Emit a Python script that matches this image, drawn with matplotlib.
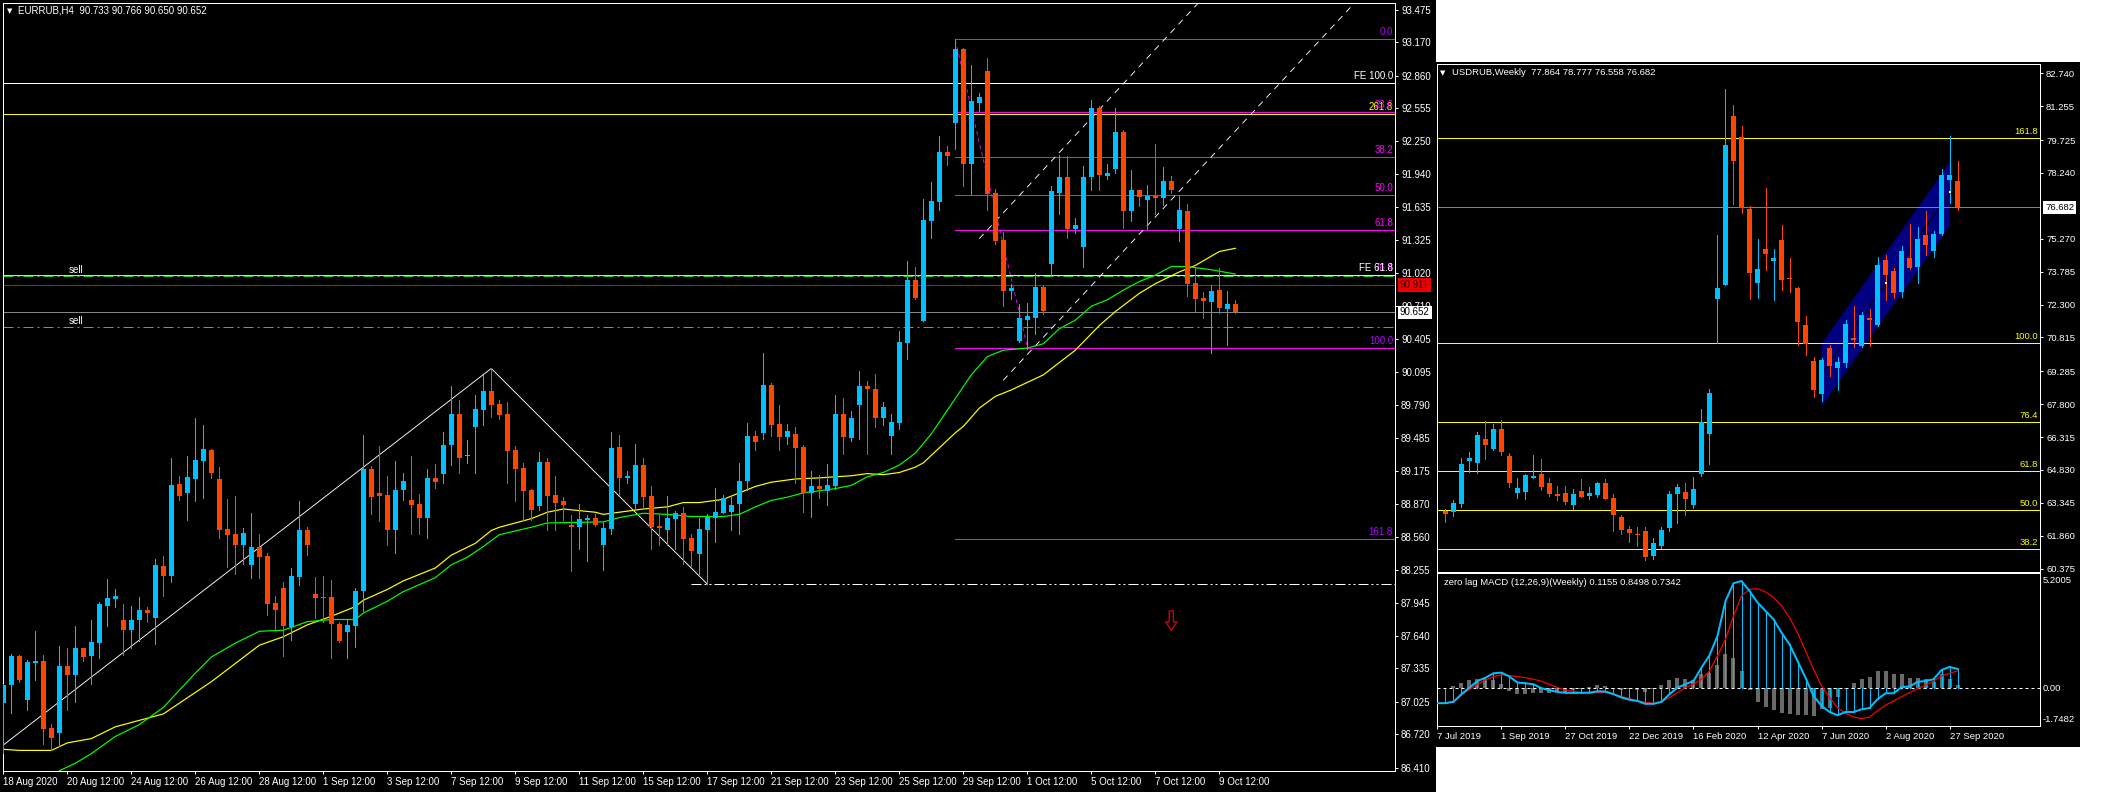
# EURRUB H4 and USDRUB weekly MT4 screenshot
import numpy as np
import matplotlib
matplotlib.use('Agg')
import matplotlib.pyplot as plt
from matplotlib.patches import Rectangle

plt.rcParams['font.family'] = ['Liberation Sans', 'DejaVu Sans']

# EURRUB H4 candles
eur_open = [87.01,87.18,87.45,87.04,87.38,87.40,86.78,86.73,87.36,87.27,
    87.52,87.45,87.57,87.92,87.98,87.79,87.69,87.79,87.88,87.80,
    88.29,88.20,89.05,88.97,89.10,89.27,89.37,89.10,88.63,88.59,
    88.48,88.30,88.47,88.38,87.94,88.08,87.72,88.19,88.62,88.03,
    88.00,88.00,87.75,87.67,87.73,88.06,89.19,88.97,88.95,88.62,
    89.00,88.90,88.87,88.74,89.11,89.15,89.42,89.71,89.31,89.58,
    89.74,89.92,89.80,89.71,89.37,89.20,89.00,88.85,89.26,88.95,
    88.89,88.67,88.65,88.72,88.74,88.48,88.63,89.40,89.11,88.87,
    89.23,88.94,88.66,88.62,88.73,88.78,88.55,88.40,88.62,88.74,
    88.78,88.79,88.87,89.08,89.50,89.53,89.98,89.61,89.49,89.52,
    89.40,88.97,89.03,88.99,89.03,89.71,89.48,89.79,89.97,89.94,
    89.67,89.50,89.62,90.37,90.95,90.57,91.50,91.68,92.15,92.42,
    93.11,92.04,92.60,92.90,91.77,91.33,90.85,90.39,90.58,90.60,
    90.89,91.10,91.77,91.91,91.43,91.26,91.91,92.56,91.92,91.99,
    92.33,91.60,91.79,91.70,91.74,91.72,91.88,91.43,91.60,90.93,
    90.79,90.75,90.86,90.68,90.733]
eur_high = [87.19,87.47,87.46,87.41,87.68,87.46,86.82,87.54,87.52,87.73,
    87.52,87.79,87.95,88.17,88.07,87.93,87.92,88.00,87.91,88.35,
    88.38,89.30,89.13,89.31,89.67,89.60,89.38,89.21,88.91,88.94,
    88.64,88.78,88.59,88.41,88.01,88.14,88.27,88.89,88.65,88.19,
    88.20,88.16,87.77,87.79,88.08,89.51,89.22,89.41,89.13,89.27,
    89.16,89.31,88.96,89.19,89.24,89.54,89.97,89.84,89.46,89.88,
    90.07,90.13,89.84,89.82,89.41,89.25,89.01,89.35,89.30,89.13,
    88.93,88.76,88.87,88.76,88.77,88.70,89.54,89.51,89.17,89.43,
    89.30,89.03,88.76,88.94,88.80,88.84,88.59,88.74,88.77,89.02,
    88.95,88.95,89.25,89.62,89.55,90.27,89.99,89.79,89.61,89.58,
    89.42,89.17,89.14,89.24,89.88,89.85,89.73,90.11,90.01,90.08,
    89.82,89.71,90.48,91.13,91.08,91.71,91.87,92.30,92.20,93.20,
    93.12,92.96,92.70,93.02,91.80,91.40,90.92,90.73,90.74,91.02,
    90.91,91.83,92.12,92.11,91.53,92.02,92.63,92.58,92.04,92.56,
    92.35,91.98,91.79,91.84,92.22,92.01,91.92,91.74,91.66,91.07,
    90.84,90.91,91.07,90.85,90.766]
eur_low = [86.55,86.92,87.21,86.95,87.23,86.63,86.57,86.61,86.95,87.02,
    87.40,87.19,87.43,87.73,87.91,87.46,87.52,87.59,87.77,87.56,
    88.01,88.14,88.90,88.72,88.89,88.92,89.11,88.55,88.28,88.21,
    88.31,88.18,88.18,87.83,87.70,87.45,87.60,88.11,88.39,87.80,
    87.77,87.43,87.58,87.43,87.53,87.87,88.77,88.71,88.48,88.41,
    88.90,88.59,88.59,88.55,89.02,89.06,89.23,89.16,89.25,89.16,
    89.60,89.68,89.66,89.06,88.89,88.72,88.72,88.81,88.62,88.62,
    88.72,88.24,88.45,88.34,88.66,88.25,88.59,88.95,89.06,88.81,
    88.82,88.45,88.48,88.48,88.45,88.31,88.28,88.21,88.12,88.51,
    88.78,88.62,88.59,89.00,89.37,89.47,89.50,89.37,89.43,89.06,
    88.79,88.75,88.92,88.86,89.01,89.33,89.45,89.47,89.33,89.58,
    89.60,89.33,89.57,90.22,90.78,90.57,91.35,91.61,92.03,92.18,
    91.83,91.76,92.53,91.61,91.29,90.71,90.78,90.38,90.31,90.45,
    90.64,91.00,91.57,91.35,91.39,91.08,91.79,91.79,91.90,91.95,
    91.44,91.50,91.64,91.43,91.57,91.65,91.77,91.32,90.81,90.67,
    90.60,90.27,90.65,90.35,90.650]
eur_close = [87.18,87.45,87.23,87.39,87.40,86.77,86.69,87.36,87.27,87.52,
    87.44,87.58,87.93,87.99,88.01,87.69,87.79,87.88,87.85,88.30,
    88.20,89.04,88.94,89.12,89.28,89.38,89.16,88.62,88.58,88.48,
    88.60,88.47,88.37,87.93,87.88,87.73,88.20,88.62,88.48,87.99,
    87.99,87.75,87.59,87.74,88.06,89.19,88.93,88.94,88.62,89.00,
    89.08,88.86,88.74,89.11,89.07,89.42,89.71,89.30,89.31,89.75,
    89.92,89.79,89.70,89.36,89.19,88.99,88.81,89.26,88.94,88.88,
    88.86,88.65,88.73,88.74,88.67,88.64,89.39,89.11,89.13,89.23,
    88.93,88.65,88.64,88.74,88.78,88.54,88.43,88.63,88.75,88.79,
    88.92,88.86,89.08,89.50,89.44,89.98,89.60,89.49,89.55,89.39,
    88.97,89.03,89.01,89.04,89.71,89.49,89.67,89.97,89.94,89.67,
    89.77,89.63,90.38,90.95,90.79,91.51,91.69,92.15,92.11,93.11,
    92.04,92.62,92.66,91.76,91.32,90.85,90.88,90.60,90.62,90.89,
    90.67,91.78,91.91,91.43,91.47,91.91,92.56,91.93,91.95,92.33,
    91.60,91.79,91.73,91.74,91.72,91.88,91.79,91.61,90.92,90.78,
    90.76,90.85,90.69,90.73,90.652]

# moving averages read at the bars listed
yellow_bars = [0,2,6,8,11,14,17,20,22,26,29,32,35,38,41,44,45,48,50,54,56,59,61,62,
    66,68,70,74,75,77,80,83,85,87,90,92,94,96,99,102,104,106,108,110,112,114,115,117,
    119,120,122,124,126,130,134,137,139,142,144,147,149,152,154]
yellow_ma = [86.58,86.57,86.57,86.64,86.68,86.79,86.85,86.91,87.01,87.21,87.38,87.55,87.63,
    87.74,87.82,87.91,87.97,88.07,88.15,88.27,88.39,88.50,88.62,88.65,
    88.73,88.79,88.82,88.79,88.77,88.79,88.82,88.84,88.88,88.88,88.91,88.97,89.03,89.07,
    89.10,89.11,89.12,89.13,89.15,89.14,89.16,89.21,89.25,89.39,
    89.53,89.59,89.76,89.87,89.93,90.07,90.30,90.53,90.66,90.83,90.92,91.03,91.09,91.22,91.25]
green_bars = [7,9,11,14,17,20,22,24,26,29,32,35,38,41,44,45,48,50,54,56,58,60,62,
    66,68,75,77,80,83,86,90,92,94,96,98,100,104,106,108,110,112,114,116,118,119,
    121,123,125,128,130,132,134,136,138,140,142,144,146,148,151,154]
green_ma = [86.38,86.45,86.54,86.70,86.81,86.97,87.13,87.29,87.44,87.57,87.68,87.69,87.77,
    87.79,87.79,87.85,87.96,88.05,88.18,88.30,88.37,88.47,88.58,
    88.65,88.69,88.70,88.74,88.78,88.77,88.75,88.75,88.77,88.84,88.90,88.93,88.97,89.01,
    89.04,89.12,89.16,89.23,89.34,89.52,89.74,89.85,
    90.07,90.24,90.30,90.32,90.36,90.50,90.58,90.71,90.77,90.86,90.94,91.00,91.08,91.08,91.05,91.01]

# EURRUB objects
fe_100 = 92.79
fe_618 = 91.00
fib_yellow_2618 = 92.50
fib_levels = [93.20, 92.52, 92.10, 91.75, 91.42, 90.997, 90.317, 88.54]
fib_names = ['0.0', '23.6', '38.2', '50.0', '61.8', '76.4', '100.0', '161.8']
fib_colors = ['#b000ff', '#ff00ff', '#ff00ff', '#ff00ff', '#ff00ff', '#ff00ff', '#b000ff', '#b000ff']
fib_start_bar = 119
sell_levels = [90.99, 90.52]
bid_price = 90.652
ask_price = 90.911
target_price = 88.12
target_start_bar = 86
zigzag_bars = [0, 61, 88]
zigzag_prices = [86.62, 90.13, 88.12]
fib_trend_bars = [119, 128]
fib_trend_prices = [93.19, 90.33]
channel_a_bars = [122, 149.3]
channel_a_prices = [91.34, 93.53]
channel_b_bars = [125, 168.7]
channel_b_prices = [90.02, 93.52]
arrow_bar = 146
arrow_tip = 87.69
arrow_top = 87.87

eur_yticks = [93.475,93.170,92.860,92.555,92.250,91.940,91.635,91.325,91.020,90.710,90.405,90.095,
    89.790,89.485,89.175,88.870,88.560,88.255,87.945,87.640,87.335,87.025,86.720,86.410]
eur_xlabels = ['18 Aug 2020','20 Aug 12:00','24 Aug 12:00','26 Aug 12:00','28 Aug 12:00','1 Sep 12:00',
    '3 Sep 12:00','7 Sep 12:00','9 Sep 12:00','11 Sep 12:00','15 Sep 12:00','17 Sep 12:00','21 Sep 12:00',
    '23 Sep 12:00','25 Sep 12:00','29 Sep 12:00','1 Oct 12:00','5 Oct 12:00','7 Oct 12:00','9 Oct 12:00']

# USDRUB weekly candles, week 1 to 65
usd_open = [62.98,62.93,63.29,65.24,65.15,66.23,65.78,66.68,65.46,63.79,
    63.84,64.48,64.65,64.24,63.75,63.79,63.25,63.88,63.66,63.70,
    64.24,63.57,62.71,62.17,61.94,62.08,60.95,61.40,62.21,63.75,
    63.84,63.25,64.65,66.45,72.55,73.18,80.81,79.86,76.61,73.27,
    74.81,74.26,75.21,73.50,73.04,71.37,69.75,68.26,70.34,69.43,
    69.66,70.79,70.43,71.69,71.37,74.31,73.81,72.86,74.40,73.99,
    75.44,74.71,75.48,77.92,77.864]
usd_high = [63.07,63.48,65.37,65.64,66.55,67.04,66.91,67.09,65.60,64.47,
    64.65,65.51,65.33,64.47,64.11,64.11,63.97,64.42,64.06,64.29,
    64.42,63.75,62.80,62.30,62.26,62.26,61.76,62.26,63.88,64.20,
    64.24,64.51,67.58,68.48,75.44,82.03,81.31,80.36,76.75,75.26,
    77.56,74.81,75.89,74.40,73.09,71.78,69.93,69.89,70.47,69.93,
    71.60,72.23,71.96,72.10,74.44,74.53,73.95,74.94,75.93,75.80,
    76.52,75.62,78.42,79.91,78.777]
usd_low = [62.48,62.75,63.16,64.74,64.69,65.33,65.73,65.51,64.06,63.57,
    63.52,64.47,63.93,63.66,63.48,63.29,63.07,63.61,63.52,63.61,
    63.52,62.08,61.94,61.58,61.40,60.77,60.81,61.31,62.08,62.44,
    62.80,63.11,64.56,65.10,70.55,73.18,76.84,76.43,72.55,72.59,
    73.86,72.50,72.95,72.86,70.47,70.02,68.12,67.94,69.07,68.44,
    69.48,70.38,70.38,70.43,71.33,72.50,72.59,72.64,73.90,73.27,
    74.53,74.44,75.44,76.88,76.558]
usd_close = [62.84,63.34,65.10,65.37,66.41,65.96,66.68,65.64,64.24,64.02,
    64.60,64.56,64.06,63.75,63.66,63.39,63.75,63.61,63.79,64.24,
    63.52,62.80,62.12,61.99,61.89,60.90,61.53,62.12,63.75,64.06,
    63.52,63.97,67.00,68.30,73.04,79.50,78.78,76.66,73.72,73.90,
    74.58,74.40,73.41,73.44,71.51,70.52,68.44,69.79,69.52,69.70,
    71.42,70.70,71.83,71.60,74.08,73.63,72.82,74.71,73.95,75.26,
    74.99,75.48,78.15,78.15,76.682]

usd_fib_levels = [79.80, 70.55, 66.98, 64.77, 63.01, 61.25]
usd_fib_names = ['161.8', '100.0', '76.4', '61.8', '50.0', '38.2']
usd_bid = 76.682
channel_bars = [48, 64]
channel_upper = [70.58, 78.75]
channel_lower = [67.76, 75.89]
channel_mid = [69.17, 77.32]
white_mark_bars = [56, 64]
white_mark_prices = [73.26, 77.36]

usd_yticks = [82.740,81.255,79.725,78.240,75.270,73.785,72.300,70.815,69.285,67.800,66.315,64.830,63.345,61.860,60.375]
usd_xticks = [0, 8, 16, 24, 32, 40, 48, 56, 64]
usd_xlabels = ['7 Jul 2019','1 Sep 2019','27 Oct 2019','22 Dec 2019','16 Feb 2020','12 Apr 2020','7 Jun 2020','2 Aug 2020','27 Sep 2020']

# zero lag MACD, week 0 to 65
macd_line = [-.71,-.71,-.65,-.30,0,.30,.45,.65,.68,.50,.23,.20,.15,-.03,-.12,-.20,-.24,-.24,-.24,-.23,
    -.17,-.18,-.30,-.45,-.55,-.61,-.74,-.74,-.65,-.30,0,.15,.30,.91,1.47,2.35,3.94,4.75,4.85,4.40,
    3.87,3.49,3.11,2.50,1.97,1.21,.45,-.38,-.83,-1.11,-1.26,-1.11,-1.11,-.99,-.93,-.53,-.26,-.26,.02,.05,
    .26,.30,.38,.80,.94,.85]
macd_signal = [-.71,-.71,-.61,-.35,-.08,.15,.35,.50,.58,.55,.50,.45,.38,.29,.15,0,-.12,-.17,-.23,-.24,
    -.23,-.23,-.30,-.41,-.50,-.61,-.68,-.71,-.65,-.45,-.23,0,.15,.38,.76,1.44,2.20,3.26,4.17,4.47,
    4.50,4.35,4.10,3.73,3.18,2.50,1.67,.83,.08,-.46,-.91,-1.17,-1.34,-1.41,-1.34,-1.06,-.80,-.61,-.42,-.23,
    -.05,.11,.30,.53,.65,.76]
macd_hist = [0,0,.05,.23,.33,.41,.41,.33,.15,-.15,-.30,-.30,-.26,-.26,-.23,-.15,-.23,-.10,-.08,.03,
    .10,.08,-.08,-.12,-.08,-.12,-.18,-.05,.10,.33,.42,.38,.33,.60,.68,1.02,1.52,1.33,.76,-.12,
    -.65,-.88,-1.03,-1.15,-1.18,-1.24,-1.26,-1.29,-.99,-.91,-.45,-.05,.20,.41,.50,.74,.74,.61,.61,.45,
    .45,.38,.26,.61,.38,.12]

W, H = 2114, 792
UP = '#00bfff'
DOWN = '#ff4500'
PX = 0.72  # one pixel in points at dpi 100
SLANT = PX * 0.9
MA_LW = PX * 1.2
FONT = 7.0
FONT_R = 6.8


def px_axes(left, top, right, bottom):
    a = fig.add_axes([left / W, 1 - bottom / H, (right - left) / W, (bottom - top) / H])
    a.set_facecolor('black')
    for s in a.spines.values():
        s.set_color('white')
        s.set_linewidth(PX)
    a.tick_params(colors='white', length=2.4, width=PX, labelsize=FONT, pad=2)
    return a


def black_box(left, top, right, bottom):
    fig.add_artist(Rectangle((left / W, 1 - bottom / H), (right - left) / W, (bottom - top) / H,
                             transform=fig.transFigure, fc='black', ec='none', zorder=-5))


def draw_candles(a, bars, o, h, l, c, price_per_px):
    bars, o, h, l, c = map(np.asarray, (bars, o, h, l, c))
    cols = np.where(c > o, UP, DOWN)
    cols[c == o] = '#00ff00'
    a.vlines(bars, l, h, colors=cols, lw=PX, antialiased=False, zorder=3)
    heights = np.maximum(np.abs(c - o), price_per_px)
    a.bar(bars, heights, bottom=np.minimum(o, c), width=0.625, color=cols, antialiased=False, zorder=3)


def level_label(a, price, text, color, size=FONT):
    a.annotate(text, xy=(1, price), xycoords=('axes fraction', 'data'), xytext=(-2, 2),
               textcoords='offset pixels', ha='right', va='bottom', color=color, fontsize=size, zorder=6)


def axis_box(a, price, text, fc, tc, size=FONT):
    a.annotate(text, xy=(1, price), xycoords=('axes fraction', 'data'), xytext=(5, 0),
               textcoords='offset pixels', ha='left', va='center', color=tc, fontsize=size, annotation_clip=False,
               bbox=dict(fc=fc, ec='none', boxstyle='square,pad=0.2'), zorder=7)


fig = plt.figure(figsize=(W / 100, H / 100), dpi=100, facecolor='white')
black_box(0, 0, 1436, 792)
black_box(1436, 62, 2080, 747)

# EURRUB window
ax = px_axes(3, 2.5, 1395, 771)
ax.set_xlim((3 - 3.3) / 8, (1395 - 3.3) / 8)
ax.set_ylim(86.378, 93.541)
x_end = ax.get_xlim()[1]

ax.axhline(fe_100, color='white', lw=PX, zorder=2)
ax.axhline(fib_yellow_2618, color='#ffff00', lw=PX, zorder=2)
ax.axhline(fe_618, color='#d0d0d0', lw=PX, zorder=2)
ax.hlines(fib_levels, fib_start_bar, x_end, colors='#ff00ff', lw=PX, antialiased=False, zorder=2)
ax.hlines(fe_618, fib_start_bar, x_end, colors='#ffd0ff', lw=PX, antialiased=False, zorder=2)
for lvl in sell_levels:
    ax.plot([0, x_end], [lvl, lvl], color='#20d020', lw=PX, ls=(0, (10, 4, 2, 4)), zorder=2)
    ax.annotate('sell', xy=(8.2, lvl), xytext=(0, 1), textcoords='offset pixels', color='white', fontsize=FONT,
                va='bottom', ha='left')
ax.axhline(ask_price, color='#e00000', lw=PX, zorder=2)
ax.axhline(bid_price, color='#808890', lw=PX, zorder=2)
ax.plot([target_start_bar, x_end], [target_price, target_price], color='white', lw=PX,
        ls=(0, (10, 3, 2, 3, 2, 3)), zorder=2)
ax.plot(zigzag_bars, zigzag_prices, color='white', lw=SLANT, zorder=2)
ax.plot(fib_trend_bars, fib_trend_prices, color='#ff00ff', lw=SLANT, ls=(0, (4, 4)), zorder=2)
ax.plot(channel_a_bars, channel_a_prices, color='white', lw=SLANT, ls=(0, (7, 6)), zorder=2)
ax.plot(channel_b_bars, channel_b_prices, color='white', lw=SLANT, ls=(0, (7, 6)), zorder=2)
ax.plot(yellow_bars, yellow_ma, color='#ffff00', lw=MA_LW, zorder=2.5)
ax.plot(green_bars, green_ma, color='#00ff00', lw=MA_LW, zorder=2.5)
draw_candles(ax, np.arange(len(eur_open)), eur_open, eur_high, eur_low, eur_close, 0.0093)

ax.annotate('', xy=(arrow_bar, arrow_tip), xytext=(arrow_bar, arrow_top),
            arrowprops=dict(fc='black', ec='#d00000', lw=1, width=3, headwidth=8, headlength=6, shrink=0))

level_label(ax, fib_yellow_2618, '261.8', '#ffff00')
for lvl, name, col in zip(fib_levels, fib_names, fib_colors):
    level_label(ax, lvl, name, col)
level_label(ax, fe_100, 'FE 100.0', 'white')
level_label(ax, fe_618, 'FE 61.8', 'white')

ax.yaxis.tick_right()
ax.set_yticks(eur_yticks)
ax.set_yticklabels(['%.3f' % v for v in eur_yticks])
ax.set_xticks(np.arange(len(eur_xlabels)) * 8)
ax.set_xticklabels(eur_xlabels, ha='left')
ax.tick_params(axis='x', pad=2)
axis_box(ax, ask_price, '%.3f' % ask_price, '#ee0000', '#400000')
axis_box(ax, bid_price, '%.3f' % bid_price, 'white', 'black')
fig.text(9.5 / W, 1 - 10.7 / H, '\u25bc', color='white', fontsize=5, ha='center', va='center', family='DejaVu Sans')
fig.text(18 / W, 1 - 10.7 / H, 'EURRUB,H4  90.733 90.766 90.650 90.652', color='white', fontsize=FONT, va='center')

# USDRUB price window
ax2 = px_axes(1437, 64, 2040, 571.7)
ax2.set_xlim(-0.06, 75.31)
ax2.set_ylim(60.237, 83.159)
xe2 = ax2.get_xlim()[1]
ax2.fill_between(channel_bars, channel_lower, channel_upper, color='#000080', lw=0, zorder=1)
ax2.plot(channel_bars, channel_mid, color='black', lw=SLANT, zorder=1.5)
ax2.hlines(usd_fib_levels, 0, xe2, colors='#ffff00', lw=PX, antialiased=False, zorder=2)
ax2.axhline(usd_bid, color='#808080', lw=PX, zorder=2)
for lvl, name in zip(usd_fib_levels, usd_fib_names):
    level_label(ax2, lvl, name, '#ffff00', FONT_R)
draw_candles(ax2, np.arange(1, 66), usd_open, usd_high, usd_low, usd_close, 0.045)
ax2.plot(white_mark_bars, white_mark_prices, ls='none', marker='s', ms=1.6, color='white', mew=0, zorder=4)
ax2.yaxis.tick_right()
ax2.set_yticks(usd_yticks)
ax2.set_yticklabels(['%.3f' % v for v in usd_yticks])
ax2.set_xticks([])
ax2.tick_params(labelsize=FONT_R)
axis_box(ax2, usd_bid, '%.3f' % usd_bid, 'white', 'black', FONT_R)
fig.text(1443 / W, 1 - 72.7 / H, '\u25bc', color='white', fontsize=5, ha='center', va='center', family='DejaVu Sans')
fig.text(1452 / W, 1 - 72.7 / H, 'USDRUB,Weekly  77.864 78.777 76.558 76.682', color='white', fontsize=FONT_R, va='center')

# MACD window
ax3 = px_axes(1437, 573.3, 2040, 726)
ax3.set_xlim(-0.06, 75.31)
ax3.set_ylim(-1.7482, 5.2005)
week = np.arange(len(macd_line))
ax3.bar(week, macd_hist, width=0.5, color='#696969', antialiased=False, zorder=1)
ax3.vlines(week, 0, macd_line, colors=UP, lw=PX, antialiased=False, zorder=2)
ax3.plot([0, ax3.get_xlim()[1]], [0, 0], color='white', lw=PX, ls=(0, (3, 3)), zorder=2)
ax3.plot(week, macd_signal, color='#ff0000', lw=MA_LW, zorder=3)
ax3.plot(week, macd_line, color=UP, lw=PX * 2, zorder=4)
ax3.yaxis.tick_right()
ax3.set_yticks([])
ax3.set_xticks(usd_xticks)
ax3.set_xticklabels(usd_xlabels, ha='left')
ax3.tick_params(labelsize=FONT_R, axis='x', pad=2)
for lab, ypx in zip(['5.2005', '0.00', '-1.7482'], [580.7, 688.3, 719.3]):
    fig.text(2043 / W, 1 - ypx / H, lab, color='white', fontsize=FONT_R, va='center')
fig.text(1443.5 / W, 1 - 582.7 / H, 'zero lag MACD (12,26,9)(Weekly) 0.1155 0.8498 0.7342', color='white',
         fontsize=FONT_R, va='center')

plt.savefig('out.png', dpi=100, facecolor=fig.get_facecolor())
